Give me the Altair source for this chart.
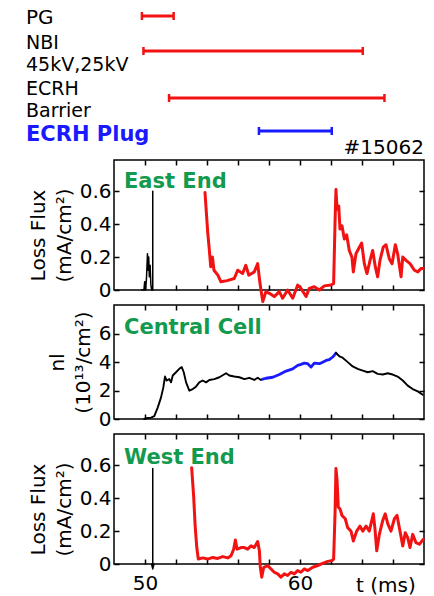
import altair as alt
import pandas as pd

FONT = "DejaVu Sans"
RED = "#f21212"
BLUE = "#1a1aff"
GREEN = "#129a4e"

# ---------------- data ----------------
T_DOMAIN = [48, 68]
T_TICKS = [50, 52, 54, 56, 58, 60, 62, 64, 66]

# timing bars (ms)
bar_names = ["PG", "NBI", "ECRH Barrier", "ECRH Plug"]
bar_start = [49.8, 49.9, 51.55, 57.35]
bar_end = [51.85, 64.05, 65.45, 62.05]
bar_colors = [RED, RED, RED, BLUE]

# East End loss flux (mA/cm2)
east_black_t = [49.8, 49.93, 49.98, 50.04, 50.1, 50.16, 50.2, 50.24, 50.28, 50.33, 50.38, 50.44, 50.5, 50.5]
east_black_v = [0.0, 0.0, 0.05, 0.0, 0.08, 0.22, 0.12, 0.2, 0.08, 0.15, 0.03, 0.0, 0.0, 0.6]
east_red_t = [53.87, 54.05, 54.15, 54.24, 54.35, 54.45, 54.7, 54.9, 55.3, 55.76, 55.98, 56.3, 56.5, 56.7,
              57.05, 57.27, 57.38, 57.48, 57.6, 57.8, 58.02, 58.34, 58.66, 58.88, 59.2, 59.53, 59.85, 60.06,
              60.39, 60.6, 60.92, 61.25, 61.57, 62.0, 62.17, 62.26, 62.32, 62.39, 62.5, 62.58, 62.71, 62.86,
              63.01, 63.18, 63.35, 63.44, 63.61, 63.83, 63.98, 64.15, 64.32, 64.52, 64.69, 64.86, 65.01,
              65.16, 65.37, 65.55, 65.76, 65.94, 66.15, 66.3, 66.52, 66.63, 66.84, 67.1, 67.38, 67.6, 67.8, 67.95]
east_red_v = [0.593, 0.345, 0.244, 0.142, 0.20, 0.12, 0.09, 0.05, 0.057, 0.07, 0.12, 0.10, 0.15, 0.09,
              0.11, 0.16, 0.07, 0.0, -0.07, -0.01, -0.02, -0.04, -0.01, -0.05, 0.0, -0.05, 0.03, 0.01,
              -0.04, 0.01, 0.02, 0.0, 0.025, 0.03, 0.04, 0.41, 0.61, 0.49, 0.51, 0.37, 0.39, 0.31,
              0.335, 0.24, 0.20, 0.11, 0.22, 0.26, 0.285, 0.16, 0.10, 0.18, 0.24, 0.14, 0.08,
              0.18, 0.26, 0.275, 0.19, 0.16, 0.275, 0.22, 0.08, 0.20, 0.18, 0.16, 0.12, 0.11, 0.13, 0.13]

# Central Cell line density (1e13/cm2)
cc_pre_t = [49.95, 50.06, 50.39, 50.6, 50.82, 51.03, 51.18, 51.29, 51.4, 51.57, 51.68, 51.79, 52.0, 52.21,
            52.37, 52.5, 52.65, 52.86, 53.08, 53.29, 53.5, 53.72, 53.94, 54.15, 54.47, 54.8, 55.23,
            55.44, 55.76, 56.09, 56.41, 56.73, 57.05, 57.27, 57.48, 57.6]
cc_pre_v = [0.0, 0.05, 0.1, 0.2, 0.8, 1.5, 2.2, 2.98, 2.7, 2.8, 2.57, 3.05, 3.28, 3.52,
            3.64, 3.28, 2.57, 1.99, 2.1, 2.27, 2.57, 2.7, 2.57, 2.74, 2.8, 2.93, 3.21,
            3.05, 2.98, 2.93, 2.8, 2.89, 2.74, 2.89, 2.74, 2.8]
cc_plug_t = [57.6, 57.81, 58.24, 58.67, 59.1, 59.53, 59.85, 60.06, 60.28, 60.5, 60.71, 60.92, 61.25,
             61.46, 61.68, 61.89, 62.11, 62.32]
cc_plug_v = [2.8, 2.86, 2.93, 3.12, 3.36, 3.52, 3.76, 3.83, 3.92, 3.88, 3.64, 3.92, 3.88,
             3.99, 4.11, 4.16, 4.35, 4.63]
cc_post_t = [62.32, 62.54, 62.75, 63.08, 63.4, 63.72, 64.05, 64.37, 64.69, 65.01, 65.34, 65.66, 65.98,
             66.3, 66.63, 66.95, 67.27, 67.6, 67.92]
cc_post_v = [4.63, 4.4, 4.3, 3.99, 3.69, 3.52, 3.4, 3.28, 3.36, 3.17, 3.12, 3.21, 3.12,
             2.98, 2.7, 2.34, 2.1, 1.94, 1.7]

# West End loss flux (mA/cm2)
west_black_t = [50.42, 50.5, 50.58, 50.5, 50.5]
west_black_v = [0.0, -0.03, 0.0, -0.03, 0.58]
west_red_t = [53.01, 53.14, 53.23, 53.34, 53.44, 53.72, 54.05, 54.37, 54.69, 55.01, 55.34, 55.55, 55.72,
              55.83, 55.94, 56.19, 56.41, 56.62, 56.84, 57.05, 57.27, 57.38, 57.44, 57.53, 57.66, 57.92,
              58.13, 58.34, 58.56, 58.77, 58.99, 59.2, 59.42, 59.63, 59.85, 60.06, 60.28, 60.5, 60.82,
              61.14, 61.46, 61.79, 62.06, 62.17, 62.26, 62.32, 62.39, 62.47, 62.58, 62.71, 62.92, 63.08,
              63.29, 63.44, 63.66, 63.87, 64.05, 64.26, 64.47, 64.73, 64.84, 64.95, 65.12, 65.34, 65.5,
              65.66, 65.87, 66.09, 66.26, 66.41, 66.63, 66.79, 66.95, 67.1, 67.27, 67.48, 67.7, 67.95]
west_red_v = [0.585, 0.41, 0.24, 0.10, 0.03, 0.037, 0.03, 0.04, 0.034, 0.045, 0.037, 0.05, 0.09,
              0.146, 0.09, 0.1, 0.10, 0.09, 0.11, 0.10, 0.136, 0.08, -0.02, -0.08, -0.02, -0.01,
              -0.03, -0.05, -0.06, -0.08, -0.06, -0.07, -0.05, -0.06, -0.04, -0.05, -0.03, -0.04, -0.02,
              -0.01, 0.004, 0.016, 0.02, 0.03, 0.305, 0.58, 0.51, 0.345, 0.335, 0.295, 0.275, 0.22,
              0.2, 0.14, 0.2, 0.23, 0.2, 0.23, 0.2, 0.305, 0.21, 0.08, 0.18, 0.265, 0.305,
              0.245, 0.2, 0.275, 0.295, 0.22, 0.11, 0.19, 0.16, 0.10, 0.18, 0.13, 0.12, 0.15]

# ---------------- layout ----------------
W = 310
HT, H1, H2, H3 = 144, 130, 114, 130
FLUX_DOMAIN = [0, 0.79]
NL_DOMAIN = [0, 8]
bar_y = [15, 50, 97, 130]
timing_labels = [("PG", 22.7, "black", "normal", 20), ("NBI", 47.5, "black", "normal", 19),
                 ("45kV,25kV", 69.5, "black", "normal", 19), ("ECRH", 94, "black", "normal", 19),
                 ("Barrier", 116, "black", "normal", 19), ("ECRH Plug", 139.5, BLUE, "bold", 21)]


def df(t, v):
    return pd.DataFrame({"t": t, "v": v, "i": list(range(len(t)))})


xscale = alt.Scale(domain=T_DOMAIN, nice=False, zero=False)


def x_axis(orient, labels=False):
    kw = dict(orient=orient, values=T_TICKS, offset=-5, tickSize=5, tickWidth=1.5, tickColor="black",
              domain=False, grid=False, title=None)
    if labels:
        kw.update(labels=True, labelExpr="datum.value == 50 || datum.value == 60 ? datum.label : ''",
                  labelFont=FONT, labelFontSize=20, labelColor="black", labelPadding=9, labelFlush=False)
    else:
        kw.update(labels=False)
    return alt.Axis(**kw)


def y_left(values, title, h, expr, dy):
    return alt.Axis(orient="left", values=values, offset=-5, tickSize=5, tickWidth=1.5, tickColor="black",
                    domain=False, grid=False, labelFont=FONT, labelFontSize=20, labelColor="black",
                    labelPadding=3, labelExpr=expr, title=title, titleFont=FONT, titleFontSize=20,
                    titleFontWeight="normal", titleColor="black", titleLineHeight=26, titlePadding=5,
                    titleY=h / 2 + dy)


def y_right(values):
    return alt.Axis(orient="right", values=values, offset=-5, tickSize=5, tickWidth=1.5, tickColor="black",
                    domain=False, grid=False, labels=False, title=None)


def line(data, color, width, ydomain, xaxis, yaxis):
    return alt.Chart(data).mark_line(color=color, strokeWidth=width, strokeJoin="round",
                                     strokeCap="round").encode(
        x=alt.X("t:Q", scale=xscale, axis=xaxis),
        y=alt.Y("v:Q", scale=alt.Scale(domain=ydomain, nice=False, zero=False), axis=yaxis),
        order="i:Q",
    )


def label(text, y, color=GREEN, x=10, size=21, weight="bold", align="left"):
    return alt.Chart(pd.DataFrame({"s": [text]})).mark_text(
        font=FONT, fontSize=size, fontWeight=weight, color=color, align=align, baseline="alphabetic"
    ).encode(text="s:N", x=alt.value(x), y=alt.value(y))


flux_vals = [0, 0.2, 0.4, 0.6]
flux_expr = "datum.value == 0 ? '0' : format(datum.value, '.1f')"
nl_vals = [0, 2, 4, 6]
nl_expr = "format(datum.value, 'd')"

# ---- timing panel ----
t_layers = []
for s, e, c, by in zip(bar_start, bar_end, bar_colors, bar_y):
    t_layers.append(alt.Chart(pd.DataFrame({"s": [s], "e": [e]})).mark_rule(color=c, strokeWidth=3).encode(
        x=alt.X("s:Q", scale=xscale, axis=None), x2="e:Q", y=alt.value(by)))
    t_layers.append(alt.Chart(pd.DataFrame({"t": [s, e]})).mark_rule(color=c, strokeWidth=2.5).encode(
        x=alt.X("t:Q", scale=xscale, axis=None), y=alt.value(by - 4), y2=alt.value(by + 4)))
for txt, ty, col, wt, fs in timing_labels:
    t_layers.append(label(txt, ty, color=col, x=-88, size=fs, weight=wt))
t_layers.append(label("#15062", 153, color="black", x=W, size=20, weight="normal", align="right"))
timing = alt.layer(*t_layers).properties(width=W, height=HT,
                                          view=alt.ViewBackground(stroke="transparent"))

# ---- East End ----
p1 = alt.layer(
    line(df(east_red_t, east_red_v), RED, 3, FLUX_DOMAIN, x_axis("bottom"),
         y_left(flux_vals, ["Loss Flux", "(mA/cm²)"], H1, flux_expr, 10)),
    line(df(east_black_t, east_black_v), "black", 1.5, FLUX_DOMAIN, x_axis("top"), y_right(flux_vals)),
    label("East End", 28),
).resolve_axis(x="independent", y="independent").properties(width=W, height=H1)

# ---- Central Cell ----
p2 = alt.layer(
    line(df(cc_pre_t, cc_pre_v), "black", 1.9, NL_DOMAIN, x_axis("bottom"),
         y_left(nl_vals, ["nl", "(10¹³/cm²)"], H2, nl_expr, 0)),
    line(df(cc_plug_t, cc_plug_v), BLUE, 2.8, NL_DOMAIN, x_axis("top"), y_right(nl_vals)),
    line(df(cc_post_t, cc_post_v), "black", 1.9, NL_DOMAIN, None, None),
    label("Central Cell", 29),
).resolve_axis(x="independent", y="independent").properties(width=W, height=H2)

# ---- West End ----
p3 = alt.layer(
    line(df(west_red_t, west_red_v), RED, 3, FLUX_DOMAIN, x_axis("bottom", labels=True),
         y_left(flux_vals, ["Loss Flux", "(mA/cm²)"], H3, flux_expr, 10)),
    line(df(west_black_t, west_black_v), "black", 1.5, FLUX_DOMAIN, x_axis("top"), y_right(flux_vals)),
    label("West End", 30),
    label("t (ms)", H3 + 28, color="black", x=242, size=20, weight="normal"),
).resolve_axis(x="independent", y="independent").properties(width=W, height=H3)

chart = alt.vconcat(timing, p1, p2, p3, spacing=15, bounds="flush").properties(
    padding={"left": 25, "top": 0, "right": 5, "bottom": 0}
).configure(font=FONT).configure_view(stroke="black", strokeWidth=1.5)

chart.save("out.html", embed_options={"renderer": "svg", "actions": False})
